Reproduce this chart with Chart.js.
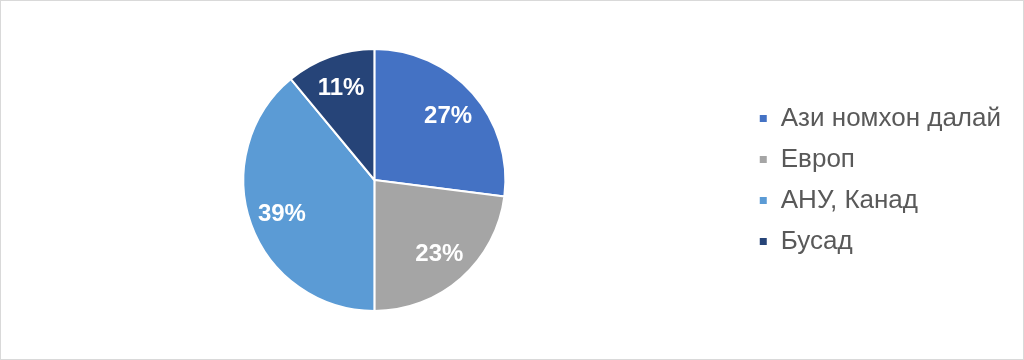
<!DOCTYPE html>
<html>

<head>
    <title>Pie</title>
    <script src="https://cdn.jsdelivr.net/npm/chart.js"></script>
    <style>
        body { margin: 0; background: #fff; }
        #wrap { width: 1024px; height: 360px; box-sizing: border-box; border: 1px solid #d9d9d9; position: relative; }
    </style>
</head>

<body>
    <div id="wrap"><canvas id="myChart"></canvas></div>

    <script>
        const categories = ['Ази номхон далай', 'Европ', 'АНУ, Канад', 'Бусад'];
        const shares = [27, 23, 39, 11];
        const colors = ['#4472C4', '#A5A5A5', '#5B9BD5', '#264478'];

        // percent labels inside the slices
        const sliceLabels = {
            id: 'sliceLabels',
            afterDatasetsDraw(chart) {
                const ctx = chart.ctx;
                const meta = chart.getDatasetMeta(0);
                ctx.save();
                ctx.fillStyle = '#ffffff';
                ctx.font = 'bold 24px "Liberation Sans", Arial, sans-serif';
                ctx.textAlign = 'center';
                ctx.textBaseline = 'middle';
                meta.data.forEach((arc, i) => {
                    const p = arc.getProps(['x', 'y', 'startAngle', 'endAngle', 'outerRadius'], true);
                    const mid = (p.startAngle + p.endAngle) / 2;
                    const r = p.outerRadius * 0.75;
                    ctx.fillText(shares[i] + '%', p.x + Math.cos(mid) * r, p.y + Math.sin(mid) * r + 1);
                });
                ctx.restore();
            }
        };

        new Chart('myChart', {
            type: 'pie',
            data: {
                labels: categories,
                datasets: [{
                    data: shares,
                    backgroundColor: colors,
                    borderColor: '#ffffff',
                    borderWidth: 2
                }]
            },
            options: {
                responsive: true,
                maintainAspectRatio: false,
                animation: false,
                layout: { padding: { left: 4, right: 12, top: 47, bottom: 47 } },
                plugins: {
                    tooltip: { enabled: false },
                    legend: {
                        position: 'right',
                        labels: {
                            boxWidth: 9,
                            boxHeight: 9,
                            padding: 15,
                            color: '#595959',
                            font: { size: 26, family: '"Liberation Sans", Arial, sans-serif' }
                        }
                    }
                }
            },
            plugins: [sliceLabels]
        });
    </script>
</body>

</html>
